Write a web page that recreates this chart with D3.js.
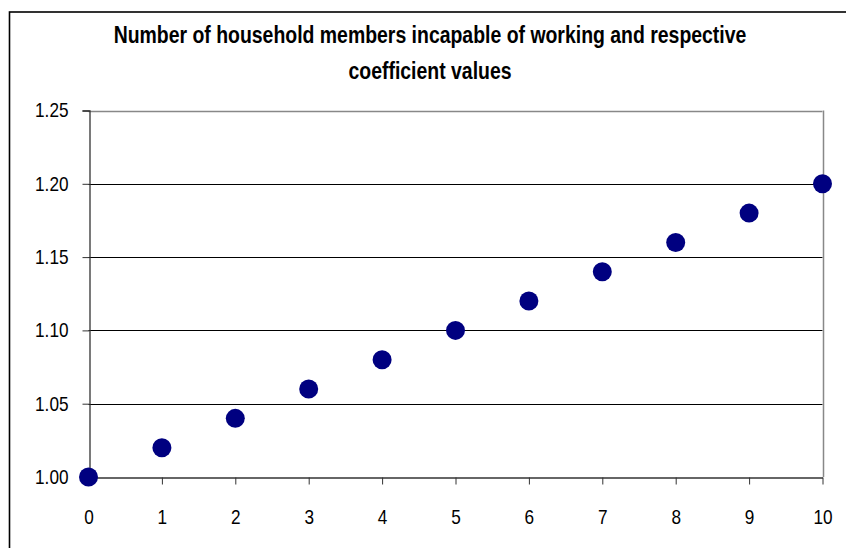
<!DOCTYPE html>
<html>
<head>
<meta charset="utf-8">
<script src="https://cdn.jsdelivr.net/npm/d3@7"></script>
<style>
  body { margin: 0; background: #fff; }
  text { font-family: "Liberation Sans", Arial, sans-serif; fill: #000; }
</style>
</head>
<body>
<div id="chart"></div>
<script>
// Number of members incapable of working -> coefficient
const members = [0, 1, 2, 3, 4, 5, 6, 7, 8, 9, 10];
const coefficients = [1.00, 1.02, 1.04, 1.06, 1.08, 1.10, 1.12, 1.14, 1.16, 1.18, 1.20];
const yTicks = [1.00, 1.05, 1.10, 1.15, 1.20, 1.25];
const titleLines = ['Number of household members incapable of working and respective', 'coefficient values'];

const width = 846, height = 548;
const narrow = 0.81; // fake an "Arial Narrow" look by squeezing glyphs

const svg = d3.select('#chart')
    .append('svg')
    .attr('width', width)
    .attr('height', height);

// outer chart border (right and bottom edges fall outside the picture)
svg.append('rect')
    .attr('x', 9.5).attr('y', 12)
    .attr('width', 860).attr('height', 560)
    .attr('fill', 'none')
    .attr('stroke', '#000')
    .attr('stroke-width', 1.6);

const x = d3.scaleLinear()
    .domain([0, 10])
    .range([88.5, 822.5]);

const y = d3.scaleLinear()
    .domain([1.00, 1.25])
    .range([477, 110.5]);

// title, squeezed horizontally around its centre
svg.append('g')
    .attr('transform', `translate(430,0) scale(${narrow},1)`)
    .selectAll('text')
    .data(titleLines)
    .join('text')
    .attr('x', 0)
    .attr('y', (d, i) => 43 + i * 36)
    .attr('text-anchor', 'middle')
    .style('font-size', '24px')
    .style('font-weight', 'bold')
    .text(d => d);

// gridlines
svg.append('g')
    .selectAll('line')
    .data(yTicks.slice(1))
    .join('line')
    .attr('x1', x(0)).attr('x2', x(10))
    .attr('y1', d => Math.round(y(d)) + 0.5)
    .attr('y2', d => Math.round(y(d)) + 0.5)
    .attr('stroke', d => d === 1.25 ? '#888' : '#000')
    .attr('stroke-width', d => d === 1.25 ? 1.5 : 1);

// right plot border
svg.append('line')
    .attr('x1', Math.round(x(10)) + 0.5).attr('x2', Math.round(x(10)) + 0.5)
    .attr('y1', y(1.25)).attr('y2', y(1.00))
    .attr('stroke', '#888')
    .attr('stroke-width', 1.5);

function squeeze(g) {
    g.selectAll('.tick text')
        .style('font-size', '20px')
        .attr('font-family', null)
        .each(function() {
            const t = d3.select(this);
            const tx = +t.attr('x') || 0;
            t.attr('x', 0).attr('transform', `translate(${tx},0) scale(0.86,1)`);
        });
}

// y axis
svg.append('g')
    .attr('transform', `translate(${Math.round(x(0)) + 0.5},0)`)
    .call(d3.axisLeft(y).tickValues(yTicks).tickFormat(d3.format('.2f')).tickSize(7).tickPadding(14))
    .call(g => g.select('.domain').attr('stroke', '#333').attr('stroke-width', 1.3))
    .call(g => g.selectAll('.tick line').attr('stroke', '#333'))
    .call(squeeze);

// x axis
svg.append('g')
    .attr('transform', `translate(0,${Math.round(y(1.00)) + 0.5})`)
    .call(d3.axisBottom(x).tickValues(members).tickFormat(d3.format('d')).tickSize(7).tickPadding(25).tickSizeOuter(0))
    .call(g => g.select('.domain').attr('stroke', '#333').attr('stroke-width', 1.3))
    .call(g => g.selectAll('.tick line').attr('stroke', '#333'))
    .call(squeeze);

// points
svg.append('g')
    .selectAll('circle')
    .data(members)
    .join('circle')
    .attr('cx', d => x(d))
    .attr('cy', (d, i) => y(coefficients[i]))
    .attr('r', 9.5)
    .attr('fill', '#000080');
</script>
</body>
</html>
